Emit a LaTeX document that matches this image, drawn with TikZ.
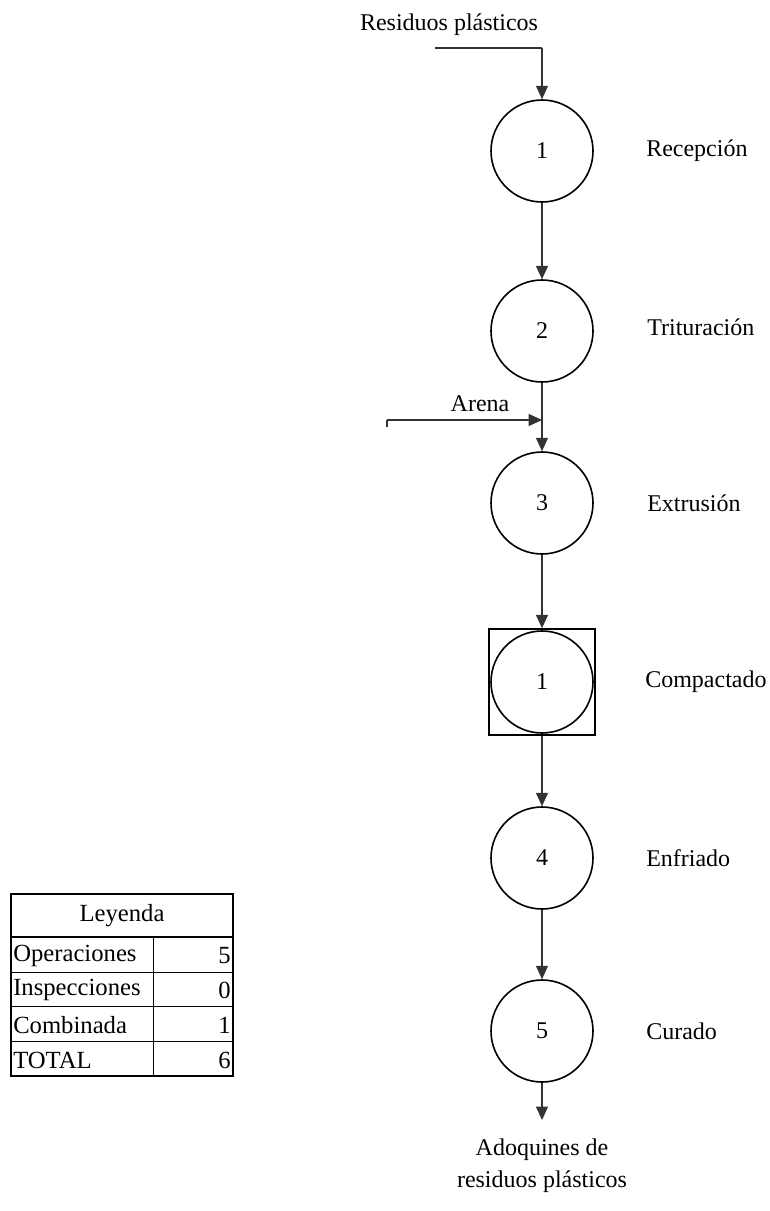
\documentclass[tikz,border=0pt]{standalone}
\usepackage{fontspec}
\setmainfont{Liberation Serif}
\usetikzlibrary{arrows.meta, positioning}

\begin{document}
\begin{tikzpicture}[x=0.75pt, y=-0.75pt,
    op/.style={circle, draw, line width=1.2pt, minimum size=76.5pt, inner sep=0pt, font=\fontsize{18}{20}\selectfont},
    combo/.style={rectangle, draw, line width=1.2pt, minimum size=79.5pt, inner sep=0pt},
    flow/.style={-{Triangle[length=10pt, width=9pt]}, black!80, line width=0.8pt},
    lbl/.style={anchor=west, inner sep=0pt, font=\fontsize{18}{20}\selectfont},
    txt/.style={inner sep=0pt, font=\fontsize{18}{24}\selectfont},
    cell/.style={inner sep=0pt, font=\fontsize{18.5}{20}\selectfont}]
    \useasboundingbox (0,0) rectangle (769,1211);

    % Process circles
    \node[op] (op1) at (542,151) {1};
    \node[op] (op2) at (542,331) {2};
    \node[op] (op3) at (542,503) {3};
    \node[combo] (sq1) at (542,682) {};
    \node[op] (cb1) at (542,682) {1};
    \node[op] (op4) at (542,858) {4};
    \node[op] (op5) at (542,1031) {5};

    % Step names
    \node[lbl] (l1) at (646,151) {Recepción};
    \node[lbl] (l2) at (647,327) {Trituración};
    \node[lbl] (l3) at (647,503) {Extrusión};
    \node[lbl] (l4) at (645,682) {Compactado};
    \node[lbl] (l5) at (646,858) {Enfriado};
    \node[lbl] (l6) at (646,1031) {Curado};

    % Input of plastic waste
    \node[txt] (inp) at (449,25) {Residuos plásticos};
    \coordinate (inpA) at (435,48);
    \coordinate (inpB) at (542,48);
    \draw[black!80, line width=0.8pt] (inpA) -- (inpB);
    \draw[flow] (inpB) -- (op1.north);

    % Main flow
    \draw[flow] (op1) -- (op2);
    \draw[flow] (op2) -- (op3);
    \draw[flow] (op3) -- (sq1);
    \draw[flow] (sq1) -- (op4);
    \draw[flow] (op4) -- (op5);

    % Sand input
    \node[txt] (sand) at (480,404) {Arena};
    \coordinate (sandA) at (387,427);
    \coordinate (sandB) at (387,420);
    \coordinate (sandC) at (542,420);
    \draw[black!80, line width=0.8pt] (sandA) -- (sandB);
    \draw[flow] (sandB) -- (sandC);

    % Output
    \coordinate (outA) at (542,1120);
    \draw[flow] (op5) -- (outA);
    \node[txt, align=center, below=14pt of outA] (out) {Adoquines de\\residuos plásticos};

    % Legend table
    \draw[line width=0.6pt] (153,937) -- (153,1076);
    \draw[line width=0.6pt] (11,972) -- (233,972);
    \draw[line width=0.6pt] (11,1006) -- (233,1006);
    \draw[line width=0.6pt] (11,1041) -- (233,1041);
    \draw[line width=1.5pt] (11,937) -- (233,937);
    \draw[line width=1.5pt] (11,894) rectangle (233,1076);
    \node[cell] (hd) at (122,916) {Leyenda};
    \node[cell, anchor=west] (r1) at (13,956) {Operaciones};
    \node[cell, anchor=west] (r2) at (13,990) {Inspecciones};
    \node[cell, anchor=west] (r3) at (13,1025) {Combinada};
    \node[cell, anchor=west] (r4) at (13,1060) {TOTAL};
    \node[cell, anchor=east] (v1) at (231,956) {5};
    \node[cell, anchor=east] (v2) at (231,990) {0};
    \node[cell, anchor=east] (v3) at (231,1025) {1};
    \node[cell, anchor=east] (v4) at (231,1060) {6};
\end{tikzpicture}
\end{document}
